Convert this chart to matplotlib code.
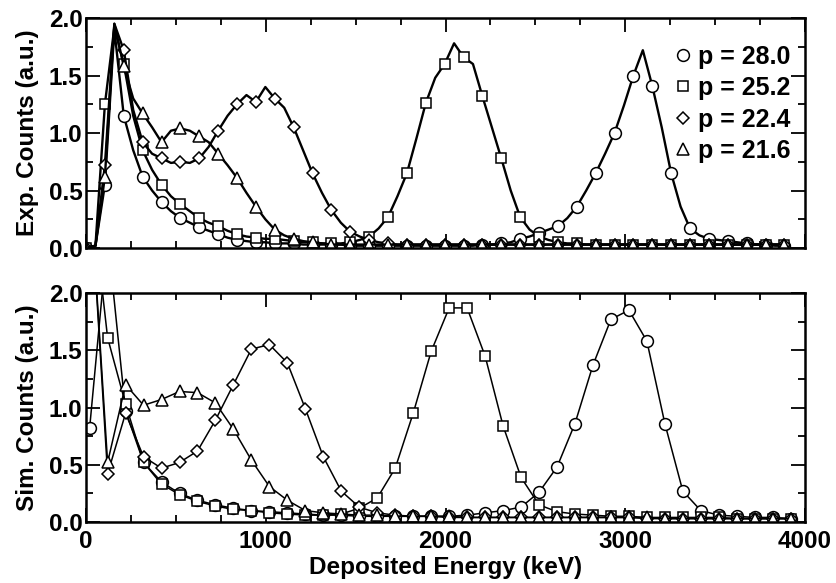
import numpy as np
import matplotlib
matplotlib.use("Agg")
import matplotlib.pyplot as plt
from matplotlib.lines import Line2D
from matplotlib.ticker import MultipleLocator

plt.rcParams['font.family'] = ['Liberation Sans', 'DejaVu Sans']
plt.rcParams['font.weight'] = 'bold'

labels = ["p = 28.0", "p = 25.2", "p = 22.4", "p = 21.6"]
markers = ["o", "s", "D", "^"]

# experimental spectra, read every 52.5 keV (markers on every second point)
exp_energy = np.arange(75) * 52.5
exp_p280 = [0.0, 0.02, 0.55, 1.90, 1.15, 0.85, 0.62, 0.50, 0.40, 0.32,
            0.26, 0.22, 0.18, 0.15, 0.12, 0.09, 0.07, 0.06, 0.05, 0.05,
            0.04, 0.04, 0.04, 0.03, 0.03, 0.03, 0.03, 0.03, 0.02, 0.02,
            0.02, 0.02, 0.02, 0.02, 0.02, 0.02, 0.02, 0.02, 0.02, 0.02,
            0.02, 0.02, 0.03, 0.03, 0.04, 0.05, 0.08, 0.10, 0.13, 0.16,
            0.19, 0.26, 0.36, 0.50, 0.65, 0.82, 1.00, 1.24, 1.50, 1.72,
            1.41, 1.05, 0.65, 0.36, 0.17, 0.11, 0.08, 0.07, 0.06, 0.05,
            0.04, 0.03, 0.03, 0.02, 0.02]
exp_p252 = [0.0, 0.02, 1.25, 1.92, 1.60, 1.15, 0.85, 0.68, 0.55, 0.45,
            0.38, 0.32, 0.26, 0.22, 0.19, 0.15, 0.12, 0.10, 0.09, 0.08,
            0.08, 0.07, 0.06, 0.05, 0.05, 0.04, 0.04, 0.04, 0.05, 0.07,
            0.10, 0.17, 0.27, 0.45, 0.65, 0.95, 1.26, 1.48, 1.60, 1.78,
            1.66, 1.60, 1.32, 1.05, 0.78, 0.50, 0.27, 0.16, 0.10, 0.07,
            0.05, 0.04, 0.04, 0.03, 0.03, 0.03, 0.03, 0.03, 0.03, 0.03,
            0.03, 0.03, 0.03, 0.03, 0.03, 0.03, 0.03, 0.03, 0.03, 0.03,
            0.03, 0.03, 0.03, 0.03, 0.03]
exp_p224 = [0.0, 0.02, 0.72, 1.95, 1.72, 1.20, 0.92, 0.82, 0.78, 0.74,
            0.75, 0.74, 0.78, 0.88, 1.02, 1.15, 1.25, 1.33, 1.27, 1.40,
            1.30, 1.22, 1.05, 0.85, 0.65, 0.48, 0.33, 0.22, 0.14, 0.10,
            0.07, 0.05, 0.04, 0.03, 0.03, 0.03, 0.03, 0.03, 0.03, 0.03,
            0.03, 0.03, 0.03, 0.03, 0.03, 0.03, 0.03, 0.03, 0.03, 0.03,
            0.03, 0.03, 0.03, 0.03, 0.03, 0.03, 0.03, 0.03, 0.03, 0.03,
            0.03, 0.03, 0.03, 0.03, 0.03, 0.03, 0.03, 0.03, 0.03, 0.03,
            0.03, 0.03, 0.03, 0.03, 0.03]
exp_p216 = [0.0, 0.02, 0.62, 1.95, 1.58, 1.30, 1.17, 1.05, 0.92, 1.02,
            1.04, 1.02, 0.97, 0.92, 0.82, 0.72, 0.61, 0.48, 0.36, 0.25,
            0.16, 0.11, 0.08, 0.06, 0.05, 0.04, 0.03, 0.03, 0.03, 0.03,
            0.03, 0.03, 0.03, 0.03, 0.03, 0.03, 0.03, 0.03, 0.03, 0.03,
            0.03, 0.03, 0.03, 0.03, 0.03, 0.03, 0.03, 0.03, 0.03, 0.03,
            0.03, 0.03, 0.03, 0.03, 0.03, 0.03, 0.03, 0.03, 0.03, 0.03,
            0.03, 0.03, 0.03, 0.03, 0.03, 0.03, 0.03, 0.03, 0.03, 0.03,
            0.03, 0.03, 0.03, 0.03, 0.03]

# simulated spectra, one point per 100 keV
sim_energy = 20 + np.arange(40) * 100
sim_p280 = [0.82, 2.50, 0.97, 0.52, 0.35, 0.25, 0.19, 0.15, 0.12, 0.10,
            0.09, 0.08, 0.07, 0.06, 0.06, 0.05, 0.05, 0.05, 0.05, 0.05,
            0.05, 0.06, 0.08, 0.10, 0.13, 0.26, 0.48, 0.86, 1.37, 1.77,
            1.85, 1.58, 0.86, 0.27, 0.10, 0.06, 0.05, 0.04, 0.04, 0.03]
sim_p252 = [3.00, 1.61, 1.03, 0.52, 0.33, 0.24, 0.18, 0.14, 0.11, 0.10,
            0.08, 0.07, 0.06, 0.06, 0.07, 0.12, 0.21, 0.47, 0.95, 1.49,
            1.87, 1.87, 1.45, 0.84, 0.39, 0.15, 0.09, 0.07, 0.06, 0.05,
            0.05, 0.04, 0.04, 0.04, 0.04, 0.04, 0.03, 0.03, 0.03, 0.03]
sim_p224 = [3.00, 0.42, 0.95, 0.57, 0.47, 0.52, 0.62, 0.89, 1.20, 1.51,
            1.55, 1.39, 0.99, 0.57, 0.27, 0.13, 0.08, 0.06, 0.05, 0.05,
            0.04, 0.04, 0.04, 0.04, 0.04, 0.04, 0.04, 0.04, 0.04, 0.04,
            0.04, 0.03, 0.03, 0.03, 0.03, 0.03, 0.03, 0.03, 0.03, 0.03]
sim_p216 = [3.00, 0.52, 1.20, 1.02, 1.07, 1.14, 1.13, 1.04, 0.81, 0.54,
            0.31, 0.19, 0.10, 0.08, 0.07, 0.06, 0.06, 0.05, 0.05, 0.05,
            0.05, 0.04, 0.04, 0.04, 0.04, 0.04, 0.04, 0.04, 0.04, 0.04,
            0.04, 0.04, 0.03, 0.03, 0.03, 0.03, 0.03, 0.03, 0.03, 0.03]

exp_data = [exp_p280, exp_p252, exp_p224, exp_p216]
sim_data = [sim_p280, sim_p252, sim_p224, sim_p216]


def msize(m):
    return 7 if m == "s" else (6.5 if m == "D" else 8.5)


fs = 17.5
fig = plt.figure(figsize=(8.36, 5.83), dpi=100)
ax1 = fig.add_axes([0.1029, 0.5746, 0.8601, 0.3945])
ax2 = fig.add_axes([0.1029, 0.1046, 0.8601, 0.3928])

for y, m in zip(exp_data, markers):
    ax1.plot(exp_energy, y, color="black", lw=1.7, marker=m, markevery=2,
             ms=msize(m), mfc="white", mec="black", mew=1.1)

for y, m in zip(sim_data, markers):
    ax2.plot(sim_energy, y, color="black", lw=1.1, marker=m,
             ms=msize(m), mfc="white", mec="black", mew=1.1)

for ax in (ax1, ax2):
    ax.set_xlim(0, 4000)
    ax.set_ylim(0, 2.0)
    ax.xaxis.set_major_locator(MultipleLocator(1000))
    ax.xaxis.set_minor_locator(MultipleLocator(250))
    ax.yaxis.set_major_locator(MultipleLocator(0.5))
    ax.yaxis.set_minor_locator(MultipleLocator(0.25))
    ax.tick_params(which="both", direction="in", top=True, right=True,
                   width=1.3, labelsize=fs)
    ax.tick_params(which="major", length=10)
    ax.tick_params(which="minor", length=5)
    ax.tick_params(axis="y", pad=2.5)
    ax.set_yticks([0, 0.5, 1.0, 1.5, 2.0])
    ax.set_yticklabels(["0.0", "0.5", "1.0", "1.5", "2.0"])
    for s in ax.spines.values():
        s.set_linewidth(1.8)

ax1.tick_params(labelbottom=False)
ax2.set_xticks([0, 1000, 2000, 3000, 4000])
ax2.tick_params(axis="x", pad=6)

ax1.set_ylabel("Exp. Counts (a.u.)", fontsize=fs, fontweight="bold", labelpad=7)
ax2.set_ylabel("Sim. Counts (a.u.)", fontsize=fs, fontweight="bold", labelpad=7)
ax2.set_xlabel("Deposited Energy (keV)", fontsize=fs, fontweight="bold", labelpad=2)

handles = [Line2D([], [], ls="none", marker=m, ms=msize(m), mfc="white",
                  mec="black", mew=1.1) for m in markers]
ax1.legend(handles, labels, loc="upper right", bbox_to_anchor=(1.0, 0.95),
           frameon=False, handlelength=0.8, handletextpad=0.2,
           labelspacing=0.3, borderaxespad=0.2,
           prop={"weight": "bold", "size": 18})

fig.savefig("out.png", dpi=100)
